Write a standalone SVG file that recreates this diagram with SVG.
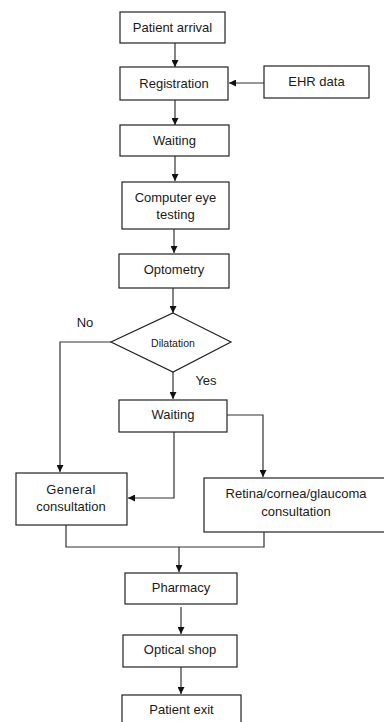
<svg xmlns="http://www.w3.org/2000/svg" width="384" height="722" viewBox="0 0 384 722">
<style>
.box{fill:#fff;stroke:#222;stroke-width:1.2}
.t{font-family:"Liberation Sans",Arial,sans-serif;font-size:13px;fill:#1a1a1a;text-anchor:middle;dominant-baseline:central}
.s{font-size:10.5px}
.c{fill:none;stroke:#333;stroke-width:1.2}
</style>
<defs>
<marker id="ah" viewBox="0 0 10 10" refX="10" refY="5" markerWidth="7" markerHeight="7" markerUnits="userSpaceOnUse" orient="auto">
<path d="M0,0 L10,5 L0,10 z" fill="#111"/>
</marker>
</defs>
<rect width="384" height="722" fill="#fff"/>
<g id="connectors">
<line class="c" x1="175" y1="43" x2="175" y2="67" marker-end="url(#ah)"/>
<line class="c" x1="264" y1="83" x2="229" y2="83" marker-end="url(#ah)"/>
<line class="c" x1="175" y1="100" x2="175" y2="125" marker-end="url(#ah)"/>
<line class="c" x1="175" y1="156" x2="175" y2="181" marker-end="url(#ah)"/>
<line class="c" x1="174" y1="229" x2="174" y2="253" marker-end="url(#ah)"/>
<line class="c" x1="173" y1="288" x2="173" y2="313" marker-end="url(#ah)"/>
<polyline class="c" points="111,342 60,342 60,472" marker-end="url(#ah)"/>
<line class="c" x1="173" y1="372" x2="173" y2="399" marker-end="url(#ah)"/>
<polyline class="c" points="227,415 263,415 263,477" marker-end="url(#ah)"/>
<polyline class="c" points="174,432 174,498 128,498" marker-end="url(#ah)"/>
<polyline class="c" points="66,525 66,547 264,547 264,532"/>
<line class="c" x1="179" y1="547" x2="179" y2="572" marker-end="url(#ah)"/>
<line class="c" x1="181" y1="607" x2="181" y2="634" marker-end="url(#ah)"/>
<line class="c" x1="181" y1="667" x2="181" y2="694" marker-end="url(#ah)"/>
</g>
<g id="n-arrival"><rect class="box" x="120" y="12" width="105" height="31"/><text class="t" x="172.5" y="27">Patient arrival</text></g>
<g id="n-registration"><rect class="box" x="120" y="67" width="108" height="33"/><text class="t" x="174" y="83">Registration</text></g>
<g id="n-ehr"><rect class="box" x="264" y="66" width="105" height="32"/><text class="t" x="316.5" y="81">EHR data</text></g>
<g id="n-waiting1"><rect class="box" x="120" y="125" width="109" height="31"/><text class="t" x="174.5" y="140">Waiting</text></g>
<g id="n-cet"><rect class="box" x="122" y="182" width="107" height="47"/><text class="t" x="175.5" y="197">Computer eye</text><text class="t" x="175.5" y="214">testing</text></g>
<g id="n-optometry"><rect class="box" x="119" y="254" width="110" height="34"/><text class="t" x="174" y="269">Optometry</text></g>
<g id="n-dilatation"><polygon class="box" points="173,313 231,342 173,372 111,342"/><text class="t s" x="173" y="343">Dilatation</text></g>
<text class="t" x="85" y="322">No</text>
<text class="t" x="206" y="380">Yes</text>
<g id="n-waiting2"><rect class="box" x="119" y="400" width="108" height="32"/><text class="t" x="173" y="414">Waiting</text></g>
<g id="n-general"><rect class="box" x="16" y="473" width="111" height="52"/><text class="t" x="71" y="489" letter-spacing="0.5">General</text><text class="t" x="71" y="506">consultation</text></g>
<g id="n-retina"><rect class="box" x="204" y="478" width="182" height="54"/><text class="t" x="296" y="493">Retina/cornea/glaucoma</text><text class="t" x="296" y="511">consultation</text></g>
<g id="n-pharmacy"><rect class="box" x="125" y="573" width="112" height="31"/><text class="t" x="181" y="587">Pharmacy</text></g>
<g id="n-optical"><rect class="box" x="123" y="635" width="114" height="32"/><text class="t" x="180" y="649">Optical shop</text></g>
<g id="n-exit"><rect class="box" x="122" y="695" width="119" height="32"/><text class="t" x="181.5" y="709">Patient exit</text></g>
</svg>
